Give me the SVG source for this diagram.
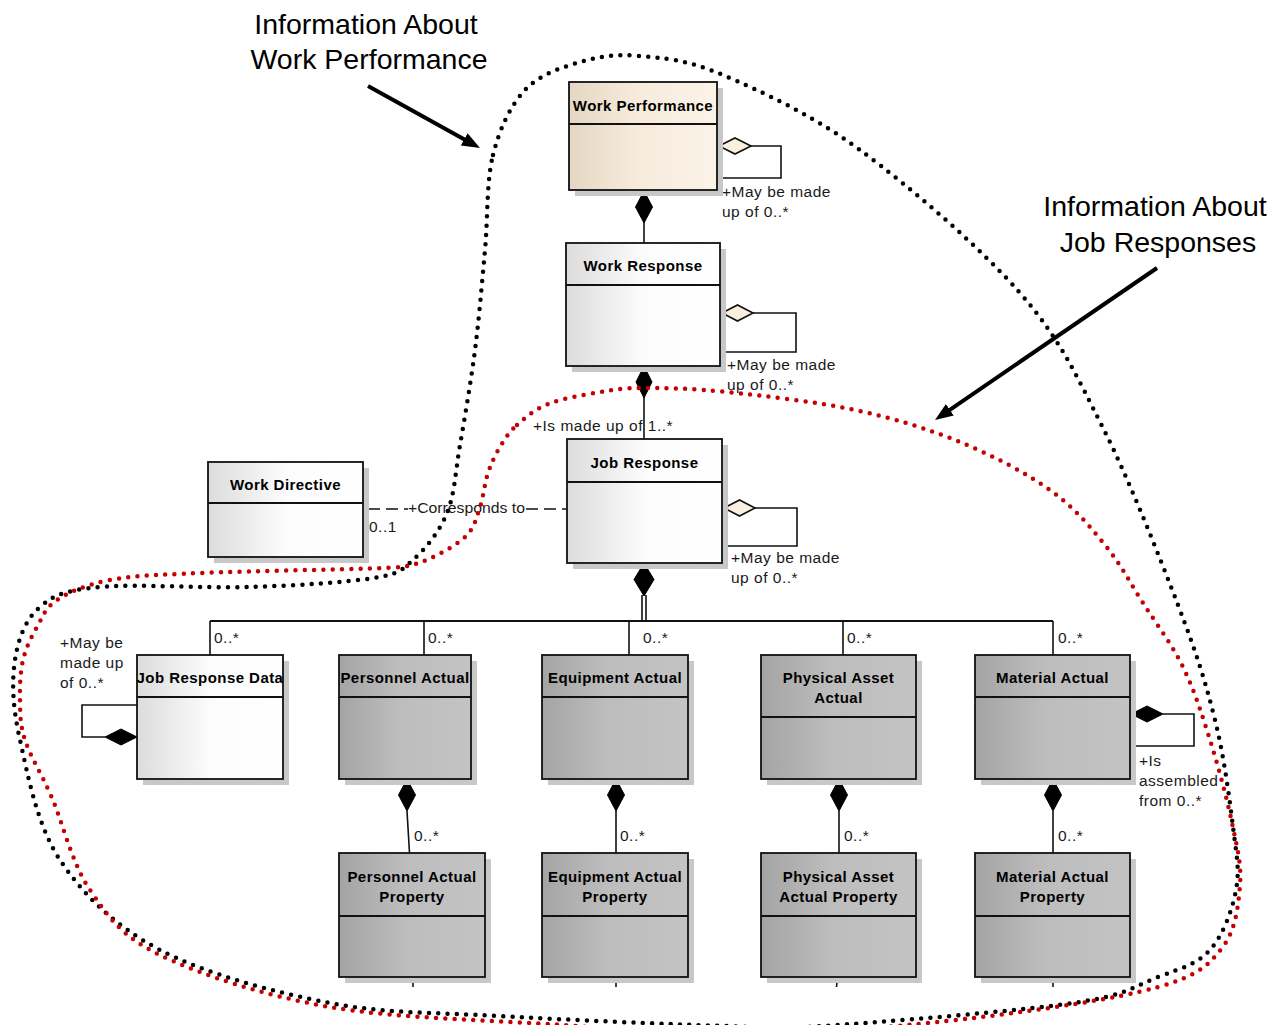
<svg xmlns="http://www.w3.org/2000/svg" width="1282" height="1025" viewBox="0 0 1282 1025">
<defs>
<linearGradient id="gBeige" x1="0" y1="0" x2="1" y2="0"><stop offset="0" stop-color="#e4d6c2"/><stop offset="0.45" stop-color="#f6ebdc"/><stop offset="1" stop-color="#fbf3e8"/></linearGradient>
<linearGradient id="gWhite" x1="0" y1="0" x2="1" y2="0"><stop offset="0" stop-color="#dcdcdc"/><stop offset="0.5" stop-color="#fcfcfc"/><stop offset="1" stop-color="#ffffff"/></linearGradient>
<linearGradient id="gGray" x1="0" y1="0" x2="1" y2="0"><stop offset="0" stop-color="#a4a4a4"/><stop offset="0.45" stop-color="#bdbdbd"/><stop offset="1" stop-color="#c3c3c3"/></linearGradient>
<marker id="ah" markerUnits="userSpaceOnUse" markerWidth="18" markerHeight="14" refX="8" refY="7" orient="auto"><path d="M0,0 L18,7 L0,14 Z" fill="#000"/></marker>
<style>
.shadow{fill:#c8c8c8}
.box{stroke:#111;stroke-width:1.8}
.beige{fill:url(#gBeige)}
.white{fill:url(#gWhite)}
.gray{fill:url(#gGray)}
.div{stroke:#111;stroke-width:1.8}
.hdr{font-family:"Liberation Sans",Arial,sans-serif;font-weight:bold;font-size:15px;letter-spacing:0.45px;text-anchor:middle;fill:#000}
.lbl{font-family:"Liberation Sans",Arial,sans-serif;font-size:15.5px;letter-spacing:0.5px;fill:#1a1a1a}
.lbl2{font-family:"Liberation Sans",Arial,sans-serif;font-size:15px;fill:#1a1a1a}
.line{stroke:#111;stroke-width:1.6;fill:none}
.dash{stroke:#111;stroke-width:1.6;fill:none;stroke-dasharray:12 6}
.dopen{fill:#fbefdf;stroke:#111;stroke-width:1.6}
.dfill{fill:#000;stroke:#000;stroke-width:1}
.dotk{fill:none;stroke:#000;stroke-width:4.5;stroke-linecap:round;stroke-dasharray:0 9.3}
.dotr{fill:none;stroke:#c40000;stroke-width:4.5;stroke-linecap:round;stroke-dasharray:0 9.3}
.callout{font-family:"Liberation Sans",Arial,sans-serif;font-size:28.5px;text-anchor:middle;fill:#000}
.arrow{stroke:#000;stroke-width:4;fill:none;marker-end:url(#ah)}
</style>
</defs>
<rect width="1282" height="1025" fill="#fff"/>

<g id="connectors">
<path class="line" d="M751 146 H781 V178 H717"/>
<polygon class="dopen" points="719,146 735,138 751,146 735,154"/>
<path class="line" d="M644 222 V243"/>
<polygon class="dfill" points="644,191 652.5,207 644,223 635.5,207"/>
<path class="line" d="M753 313 H796 V352 H720"/>
<polygon class="dopen" points="722,313 737.5,305 753,313 737.5,321"/>
<path class="line" d="M644 397 V439"/>
<polygon class="dfill" points="644,366 652,382 644,398 636,382"/>
<path class="line" d="M755 508 H797 V546 H722"/>
<polygon class="dopen" points="724,508 739.5,500 755,508 739.5,516"/>
<path class="dash" d="M368 509 H408"/>
<path class="dash" d="M526 509 H567"/>
<path class="line" d="M642 595 V621 M646 595 V621"/>
<polygon class="dfill" points="644,563 654,579.5 644,596 634,579.5"/>
<path class="line" d="M210 621 H1053" style="stroke-width:2"/>
<path class="line" d="M210 621 V655 M424 621 V655 M629 621 V655 M843 621 V655 M1053 621 V655"/>
<path class="line" d="M137 705 H82 V737 H105"/>
<polygon class="dfill" points="105,737 121,729 137,737 121,745"/>
<path class="line" d="M1163 714 H1194 V746 H1130"/>
<polygon class="dfill" points="1131,714 1147,706 1163,714 1147,722"/>
<path class="line" d="M407 811 L409.5 853 M616 811 V853 M839 811 V853 M1053 811 V853"/>
<polygon class="dfill" points="407,779 415.5,795 407,811 398.5,795"/>
<polygon class="dfill" points="616,779 624.5,795 616,811 607.5,795"/>
<polygon class="dfill" points="839,779 847.5,795 839,811 830.5,795"/>
<polygon class="dfill" points="1053,779 1061.5,795 1053,811 1044.5,795"/>
<path class="line" d="M413 977 V987 M616 977 V987 M837.5 977 L836.5 987 M1053 977 V987"/>
<text class="lbl" x="722" y="197">+May be made</text>
<text class="lbl" x="722" y="217">up of 0..*</text>
<text class="lbl" x="727" y="370">+May be made</text>
<text class="lbl" x="727" y="390">up of 0..*</text>
<text class="lbl" x="533" y="431">+Is made up of 1..*</text>
<text class="lbl" x="731" y="563">+May be made</text>
<text class="lbl" x="731" y="583">up of 0..*</text>
<text class="lbl2" x="408" y="513" textLength="117" lengthAdjust="spacingAndGlyphs">+Corresponds to</text>
<text class="lbl" x="369" y="532">0..1</text>
<text class="lbl" x="214" y="643">0..*</text>
<text class="lbl" x="428" y="643">0..*</text>
<text class="lbl" x="643" y="643">0..*</text>
<text class="lbl" x="847" y="643">0..*</text>
<text class="lbl" x="1058" y="643">0..*</text>
<text class="lbl" x="60" y="648">+May be</text>
<text class="lbl" x="60" y="668">made up</text>
<text class="lbl" x="60" y="688">of 0..*</text>
<text class="lbl" x="1139" y="766">+Is</text>
<text class="lbl" x="1139" y="786">assembled</text>
<text class="lbl" x="1139" y="806">from 0..*</text>
<text class="lbl" x="414" y="841">0..*</text>
<text class="lbl" x="620" y="841">0..*</text>
<text class="lbl" x="844" y="841">0..*</text>
<text class="lbl" x="1058" y="841">0..*</text>
</g>

<g id="work-performance">
<rect class="shadow" x="575" y="88" width="148" height="108"/>
<rect class="box beige" x="569" y="82" width="148" height="108"/>
<line class="div" x1="569" y1="124" x2="717" y2="124"/>
<text class="hdr" x="643" y="111">Work Performance</text>
</g>
<g id="work-response">
<rect class="shadow" x="572" y="249" width="154" height="123"/>
<rect class="box white" x="566" y="243" width="154" height="123"/>
<line class="div" x1="566" y1="285" x2="720" y2="285"/>
<text class="hdr" x="643" y="271">Work Response</text>
</g>
<g id="job-response">
<rect class="shadow" x="573" y="445" width="155" height="124"/>
<rect class="box white" x="567" y="439" width="155" height="124"/>
<line class="div" x1="567" y1="482" x2="722" y2="482"/>
<text class="hdr" x="644.5" y="468">Job Response</text>
</g>
<g id="work-directive">
<rect class="shadow" x="214" y="468" width="155" height="95"/>
<rect class="box white" x="208" y="462" width="155" height="95"/>
<line class="div" x1="208" y1="503" x2="363" y2="503"/>
<text class="hdr" x="285.5" y="490">Work Directive</text>
</g>
<g id="job-response-data">
<rect class="shadow" x="143" y="661" width="146" height="124"/>
<rect class="box white" x="137" y="655" width="146" height="124"/>
<line class="div" x1="137" y1="697" x2="283" y2="697"/>
<text class="hdr" x="210" y="683">Job Response Data</text>
</g>
<g id="personnel-actual">
<rect class="shadow" x="345" y="661" width="132" height="124"/>
<rect class="box gray" x="339" y="655" width="132" height="124"/>
<line class="div" x1="339" y1="697" x2="471" y2="697"/>
<text class="hdr" x="405" y="683">Personnel Actual</text>
</g>
<g id="equipment-actual">
<rect class="shadow" x="548" y="661" width="146" height="124"/>
<rect class="box gray" x="542" y="655" width="146" height="124"/>
<line class="div" x1="542" y1="697" x2="688" y2="697"/>
<text class="hdr" x="615" y="683">Equipment Actual</text>
</g>
<g id="physical-asset-actual">
<rect class="shadow" x="767" y="661" width="155" height="124"/>
<rect class="box gray" x="761" y="655" width="155" height="124"/>
<line class="div" x1="761" y1="717" x2="916" y2="717"/>
<text class="hdr" x="838.5" y="683">Physical Asset</text>
<text class="hdr" x="838.5" y="703">Actual</text>
</g>
<g id="material-actual">
<rect class="shadow" x="981" y="661" width="155" height="124"/>
<rect class="box gray" x="975" y="655" width="155" height="124"/>
<line class="div" x1="975" y1="697" x2="1130" y2="697"/>
<text class="hdr" x="1052.5" y="683">Material Actual</text>
</g>
<g id="personnel-actual-property">
<rect class="shadow" x="345" y="859" width="146" height="124"/>
<rect class="box gray" x="339" y="853" width="146" height="124"/>
<line class="div" x1="339" y1="916" x2="485" y2="916"/>
<text class="hdr" x="412" y="882">Personnel Actual</text>
<text class="hdr" x="412" y="902">Property</text>
</g>
<g id="equipment-actual-property">
<rect class="shadow" x="548" y="859" width="146" height="124"/>
<rect class="box gray" x="542" y="853" width="146" height="124"/>
<line class="div" x1="542" y1="916" x2="688" y2="916"/>
<text class="hdr" x="615" y="882">Equipment Actual</text>
<text class="hdr" x="615" y="902">Property</text>
</g>
<g id="physical-asset-actual-property">
<rect class="shadow" x="767" y="859" width="155" height="124"/>
<rect class="box gray" x="761" y="853" width="155" height="124"/>
<line class="div" x1="761" y1="916" x2="916" y2="916"/>
<text class="hdr" x="838.5" y="882">Physical Asset</text>
<text class="hdr" x="838.5" y="902">Actual Property</text>
</g>
<g id="material-actual-property">
<rect class="shadow" x="981" y="859" width="155" height="124"/>
<rect class="box gray" x="975" y="853" width="155" height="124"/>
<line class="div" x1="975" y1="916" x2="1130" y2="916"/>
<text class="hdr" x="1052.5" y="882">Material Actual</text>
<text class="hdr" x="1052.5" y="902">Property</text>
</g>

<g id="regions">
<path id="work-performance-region" class="dotk" d="M493 155 C499.7 128.3 510.5 105.5 525 90 C539.5 74.5 560.8 67.7 580 62 C599.2 56.3 616.2 53.8 640 56 C663.8 58.2 686.3 59.3 723 75 C759.7 90.7 810.5 113.7 860 150 C909.5 186.3 979.5 246.7 1020 293 C1060.5 339.3 1076.7 376 1103 428 C1129.3 480 1159.3 556.3 1178 605 C1196.7 653.7 1205.8 683 1215 720 C1224.2 757 1229.5 798.7 1233 827 C1236.5 855.3 1239.8 869.5 1236 890 C1232.2 910.5 1223 935.5 1210 950 C1197 964.5 1180.8 968.2 1158 977 C1135.2 985.8 1128.8 994.8 1073 1003 C1017.2 1011.2 881.3 1022.2 823 1026 C764.7 1029.8 776.8 1027.7 723 1026 C669.2 1024.3 565.5 1019.8 500 1016 C434.5 1012.2 386.7 1014 330 1003 C273.3 992 205 973.8 160 950 C115 926.2 83.3 895 60 860 C36.7 825 27.5 773.3 20 740 C12.5 706.7 11.7 682.2 15 660 C18.3 637.8 25.8 619.2 40 607 C54.2 594.8 65 590.3 100 587 C135 583.7 204.5 588.5 250 587 C295.5 585.5 345.8 582.5 373 578 C400.2 573.5 400.7 570.8 413 560 C425.3 549.2 439.2 532.2 447 513 C454.8 493.8 455.3 472.2 460 445 C464.7 417.8 470.8 382.5 475 350 C479.2 317.5 482 282.5 485 250 C488 217.5 486.3 181.7 493 155 Z"/>
<path id="job-responses-region" class="dotr" d="M517 425 C525 417.8 534.2 409.5 548 404 C561.8 398.5 584.2 394.7 600 392 C615.8 389.3 621.8 388 643 388 C664.2 388 691.7 388.3 727 392 C762.3 395.7 816.2 401.7 855 410 C893.8 418.3 927.5 428.7 960 442 C992.5 455.3 1025.8 472.8 1050 490 C1074.2 507.2 1089.5 526.2 1105 545 C1120.5 563.8 1130 582.7 1143 603 C1156 623.3 1171.8 644.2 1183 667 C1194.2 689.8 1201.8 714 1210 740 C1218.2 766 1227 798.8 1232 823 C1237 847.2 1241.7 864.2 1240 885 C1238.3 905.8 1235.7 931 1222 948 C1208.3 965 1199.5 975.3 1158 987 C1116.5 998.7 1042.7 1009.8 973 1018 C903.3 1026.2 808.3 1034.8 740 1036 C671.7 1037.2 631.3 1029.8 563 1025 C494.7 1020.2 397.2 1018.7 330 1007 C262.8 995.3 200 974.5 160 955 C120 935.5 108 916.2 90 890 C72 863.8 62.8 823 52 798 C41.2 773 30.3 756.3 25 740 C19.7 723.7 20.3 713.3 20 700 C19.7 686.7 20.2 672.2 23 660 C25.8 647.8 31.3 637 37 627 C42.7 617 44.8 607.8 57 600 C69.2 592.2 86.2 584.5 110 580 C133.8 575.5 151.7 575.2 200 573 C248.3 570.8 385 569 400 567 C415 565 421.8 562.3 433 557 C444.2 551.7 459.2 543.3 467 535 C474.8 526.7 476.5 517.3 480 507 C483.5 496.7 484.7 483 488 473 C491.3 463 495.2 455 500 447 C504.8 439 509 432.2 517 425 Z"/>
</g>

<g id="callouts">
<text class="callout" x="366" y="34">Information About</text>
<text class="callout" x="369" y="69">Work Performance</text>
<line class="arrow" x1="368" y1="86" x2="471.25" y2="143.2"/>
<text class="callout" x="1155" y="216">Information About</text>
<text class="callout" x="1158" y="252">Job Responses</text>
<line class="arrow" x1="1157" y1="268" x2="943.25" y2="414.35"/>
</g>
</svg>
